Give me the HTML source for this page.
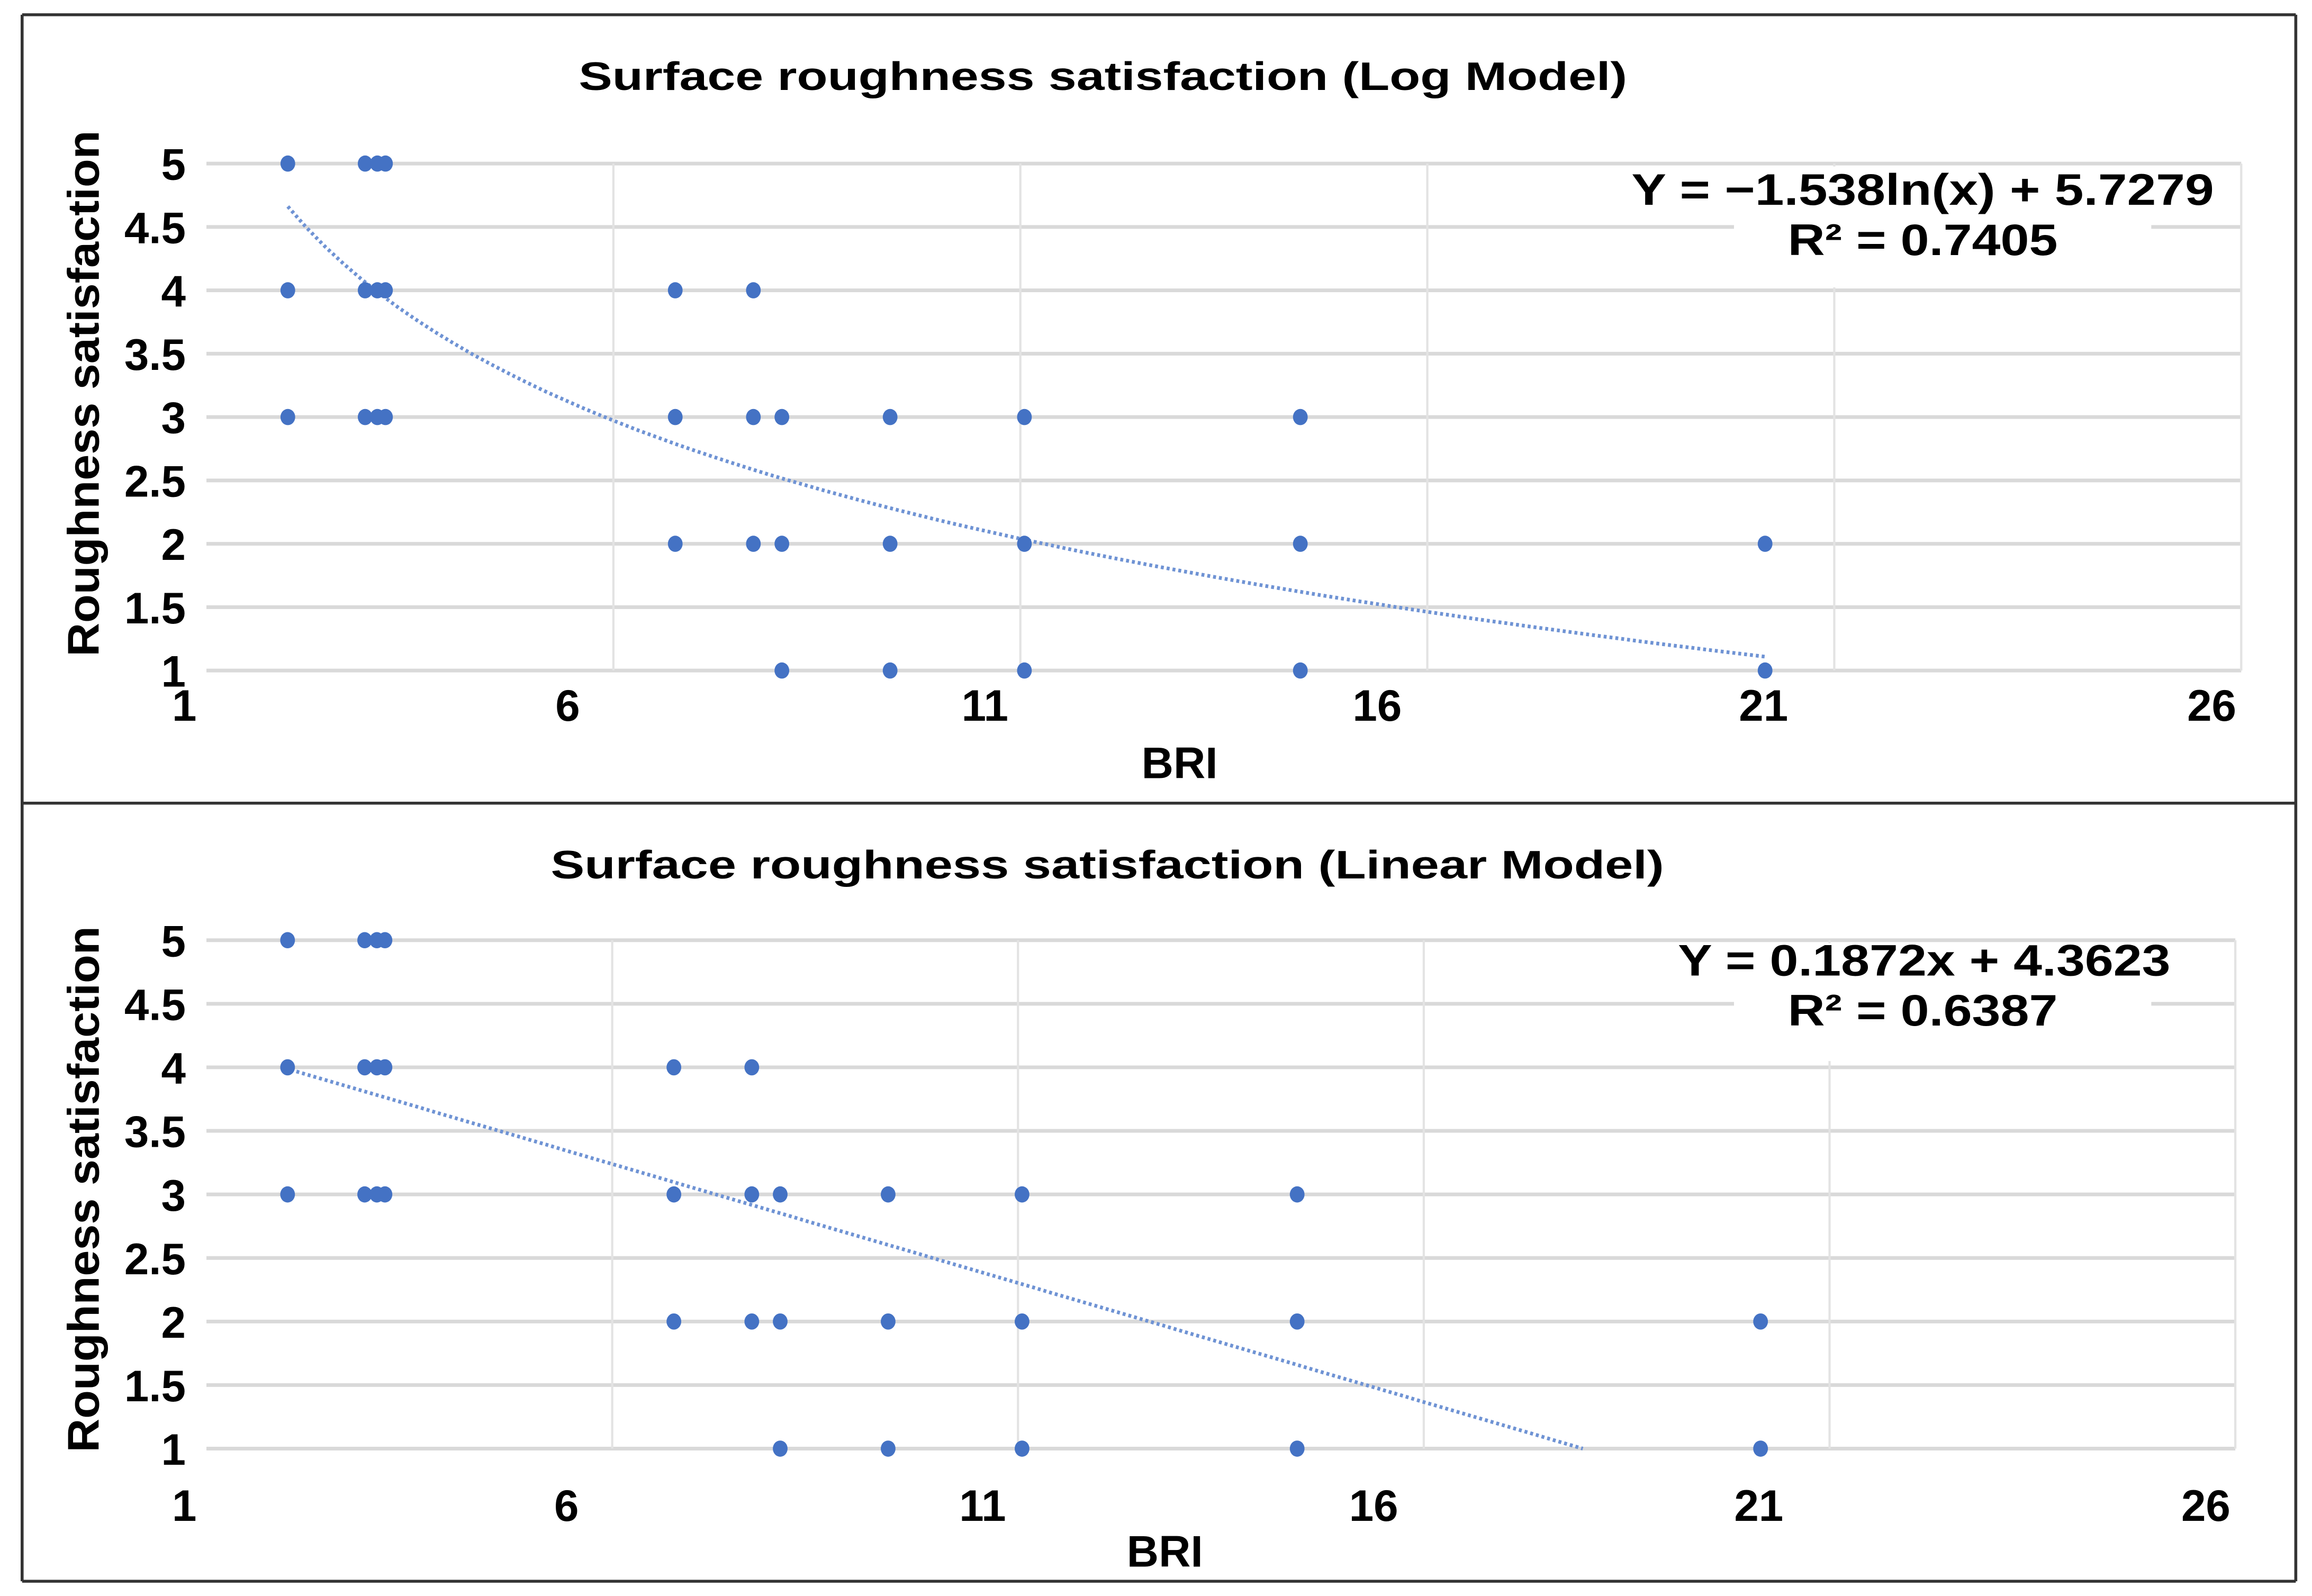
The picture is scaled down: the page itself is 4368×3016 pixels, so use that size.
<!DOCTYPE html>
<html><head><meta charset="utf-8"><style>
html,body{margin:0;padding:0;background:#fff;}
svg{display:block;}
text{font-family:"Liberation Sans",Arial,sans-serif;font-weight:bold;fill:#000;}
</style></head><body>
<svg id="root" width="4368" height="3016" viewBox="0 0 1568 1083" preserveAspectRatio="none" xmlns="http://www.w3.org/2000/svg">
<rect x="0" y="0" width="1568" height="1083" fill="#fff"/>
<g stroke="#333" stroke-width="2" fill="none">
<line x1="15" y1="10" x2="1557" y2="10"/>
<line x1="15" y1="10" x2="15" y2="1073"/>
<line x1="1557" y1="10" x2="1557" y2="1073"/>
<line x1="15" y1="545" x2="1557" y2="545"/>
<line x1="15" y1="1073" x2="1557" y2="1073"/>
</g>
<g id="c1"></g>
<g id="c2"></g>
</svg>
<script>
const xTicks = [1, 6, 11, 16, 21, 26];
const yTicks = [1, 1.5, 2, 2.5, 3, 3.5, 4, 4.5, 5];
const yTickLabels = ["1", "1.5", "2", "2.5", "3", "3.5", "4", "4.5", "5"];
const briValues = [2, 2.95, 3.1, 3.2, 2, 2.95, 3.1, 3.2, 6.76, 7.72, 2, 2.95, 3.1, 3.2, 6.76, 7.72, 8.07, 9.4, 11.05, 14.44, 6.76, 7.72, 8.07, 9.4, 11.05, 14.44, 20.15, 8.07, 9.4, 11.05, 14.44, 20.15];
const satValues = [5, 5, 5, 5, 4, 4, 4, 4, 4, 4, 3, 3, 3, 3, 3, 3, 3, 3, 3, 3, 2, 2, 2, 2, 2, 2, 2, 1, 1, 1, 1, 1];
const logCoef = [-1.538, 5.7279];
const linCoef = [-0.1872, 4.3623];
const logRange = [2, 20.15];
const linRange = [2.04, 17.96];

const NS = "http://www.w3.org/2000/svg";
function mk(parent, tag, attrs, txt){
  const e = document.createElementNS(NS, tag);
  for (const k in attrs) e.setAttribute(k, attrs[k]);
  if (txt !== undefined) e.textContent = txt;
  parent.appendChild(e);
  return e;
}
function labelShift(v){
  if (v === 1) return -15;
  if (v === 6) return -31;
  if (v === 11) return -24;
  if (v === 16) return -34;
  if (v === 21) return -48;
  return -20;
}

function drawChart(g, cfg){
  const X = v => cfg.left + (v - 1) / 25 * (cfg.right - cfg.left);
  const Y = v => cfg.y1 - (v - 1) / 4 * (cfg.y1 - cfg.y5);
  const t = mk(g, "text", {x: cfg.titleX, y: cfg.titleY, "text-anchor": "middle", "font-size": 27, textLength: cfg.titleLen, lengthAdjust: "spacingAndGlyphs"}, cfg.title);
  
  
  yTicks.forEach((v, i) => {
    const l = mk(g, "line", {x1: cfg.left, x2: cfg.right, y1: Y(v), y2: Y(v), stroke: "#d9d9d9", "stroke-width": 2.5});
    
    
    const tl = mk(g, "text", {x: 126, y: Y(v) + 11, "text-anchor": "end", "font-size": 30}, yTickLabels[i]);
    
    
  });
  xTicks.forEach(v => {
    if (v === 1) return;
    const l = mk(g, "line", {x1: X(v), x2: X(v), y1: Y(5), y2: Y(1), stroke: "#e3e3e3", "stroke-width": 1.5});
    
    
  });
  xTicks.forEach(v => {
    const tl = mk(g, "text", {x: X(v) + labelShift(v), y: cfg.xLabelY, "text-anchor": "middle", "font-size": 30}, String(v));
    
    
  });
  const bx = mk(g, "rect", {x: 1176, y: Y(5) + 2, width: 283, height: cfg.boxH, fill: "#fff"});
  
  
  const e1 = mk(g, "text", {x: cfg.eqX, y: cfg.eqY, "text-anchor": "middle", "font-size": 30, textLength: cfg.eqLen, lengthAdjust: "spacingAndGlyphs"}, cfg.eq);
  
  
  const e2 = mk(g, "text", {x: 1304, y: cfg.eqY + 34, "text-anchor": "middle", "font-size": 30, textLength: 183, lengthAdjust: "spacingAndGlyphs"}, cfg.r2);
  
  
  const yt = mk(g, "text", {x: 0, y: 0, "text-anchor": "middle", "font-size": 30, transform: "translate(67," + cfg.yTitleC + ") rotate(-90)", textLength: 357, lengthAdjust: "spacingAndGlyphs"}, "Roughness satisfaction");
  
  
  const xt = mk(g, "text", {x: cfg.briX, y: cfg.briY, "text-anchor": "middle", "font-size": 30}, "BRI");
  
  
  let d = "";
  const n = 80;
  for (let i = 0; i <= n; i++){
    const xv = cfg.range[0] + (cfg.range[1] - cfg.range[0]) * i / n;
    const yv = cfg.f(xv);
    d += (i ? "L" : "M") + X(xv).toFixed(1) + " " + Y(yv).toFixed(1);
  }
  const tr = mk(g, "path", {d: d, fill: "none", stroke: "#6f93d4", "stroke-width": 2.5, "stroke-dasharray": "2 2"});
  
  
  briValues.forEach((bv, i) => {
    const p = mk(g, "ellipse", {cx: X(bv), cy: Y(satValues[i]), rx: 5, ry: 5.5, fill: "#4472c4"});
    
    
  });
}

drawChart(document.getElementById("c1"), {
  left: 140, right: 1520, y5: 111, y1: 455,
  title: "Surface roughness satisfaction (Log Model)", titleX: 748, titleY: 61, titleLen: 711,
  xLabelY: 489, eq: "Y = \u22121.538ln(x) + 5.7279", eqX: 1304, eqLen: 395, eqY: 139, boxH: 82,
  r2: "R\u00b2 = 0.7405", yTitleC: 267, briX: 800, briY: 528,
  range: logRange, f: x => logCoef[0] * Math.log(x) + logCoef[1]
});
drawChart(document.getElementById("c2"), {
  left: 140, right: 1516, y5: 638, y1: 983,
  title: "Surface roughness satisfaction (Linear Model)", titleX: 751, titleY: 596, titleLen: 755,
  xLabelY: 1032, eq: "Y = 0.1872x + 4.3623", eqX: 1305, eqLen: 334, eqY: 662, boxH: 80,
  r2: "R\u00b2 = 0.6387", yTitleC: 807, briX: 790, briY: 1063,
  range: linRange, f: x => linCoef[0] * x + linCoef[1]
});
</script>
</body></html>
